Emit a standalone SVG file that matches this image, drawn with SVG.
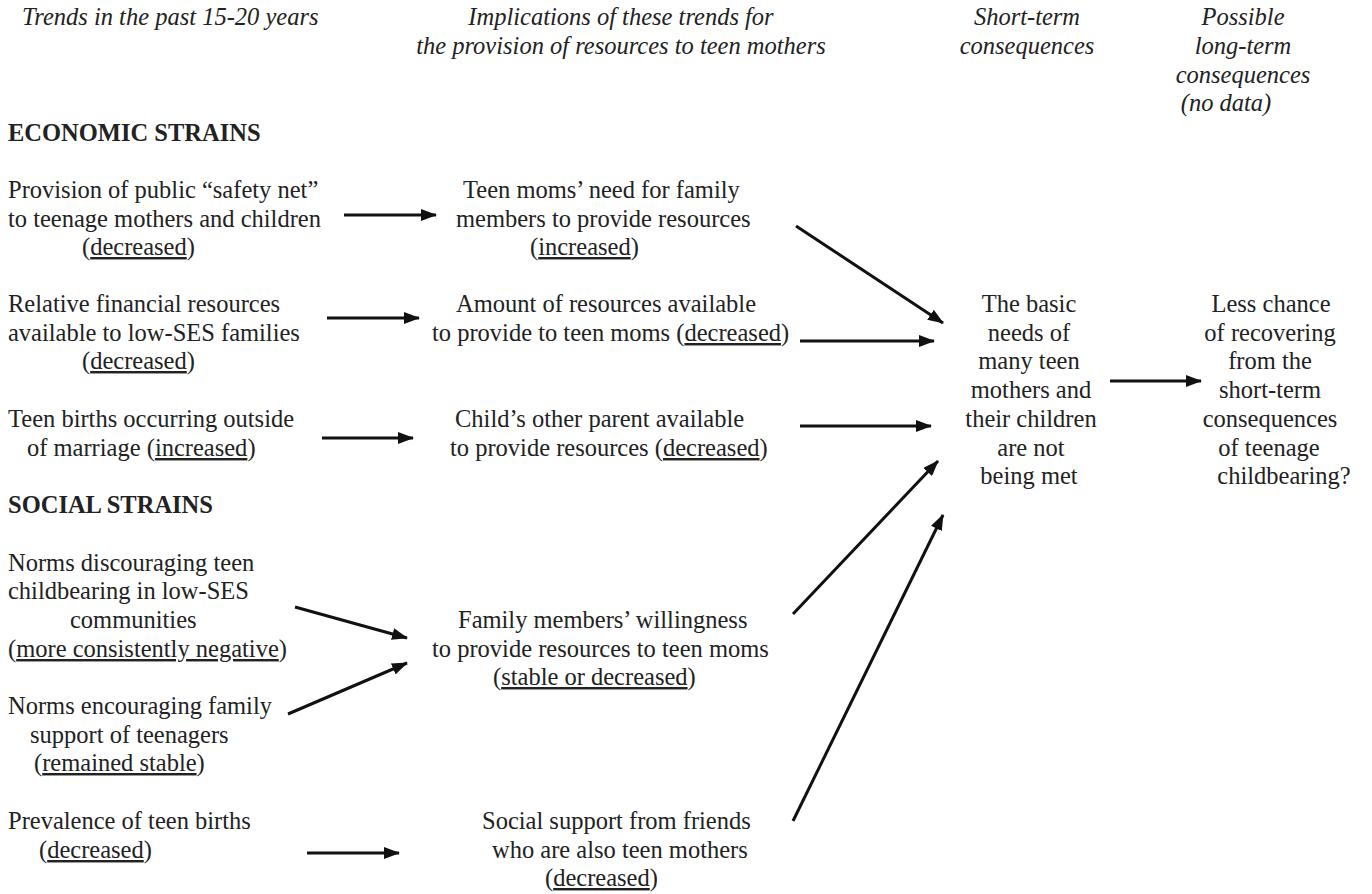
<svg xmlns="http://www.w3.org/2000/svg" width="1372" height="894" viewBox="0 0 1372 894">
<style>
text{font-family:"Liberation Serif","Times New Roman",serif;font-size:24.5px;fill:#222}
.h{font-style:italic}
.b{font-weight:bold}
.m{text-anchor:middle}
.u{text-decoration:underline}
.c line{stroke:#111;stroke-width:3;marker-end:url(#ah)}
</style>
<defs>
<marker id="ah" markerUnits="userSpaceOnUse" markerWidth="16" markerHeight="12" refX="15" refY="6" orient="auto">
<path d="M0,0 L16,6 L0,12 Z" fill="#111"/>
</marker>
</defs>
<rect width="1372" height="894" fill="#fff"/>
<g id="headers" class="h">
<text class="h" x="22" y="25">Trends in the past 15-20 years</text>
<text class="h m" x="621" y="25">Implications of these trends for</text>
<text class="h m" x="621" y="54">the provision of resources to teen mothers</text>
<text class="h m" x="1027" y="25">Short-term</text>
<text class="h m" x="1027" y="54">consequences</text>
<text class="h m" x="1243" y="25">Possible</text>
<text class="h m" x="1243" y="54">long-term</text>
<text class="h m" x="1243" y="83">consequences</text>
<text class="h m" x="1226" y="111">(no data)</text>
</g>
<g id="econ-title"><text class="b" x="8" y="141">ECONOMIC STRAINS</text></g>
<g id="n-safety-net">
<text x="8" y="198">Provision of public “safety net”</text>
<text x="8" y="227">to teenage mothers and children</text>
<text x="82" y="255">(<tspan class="u">decreased</tspan>)</text>
</g>
<g id="n-financial">
<text x="8" y="312">Relative financial resources</text>
<text x="8" y="341">available to low-SES families</text>
<text x="82" y="369">(<tspan class="u">decreased</tspan>)</text>
</g>
<g id="n-outside-marriage">
<text x="8" y="427">Teen births occurring outside</text>
<text x="27" y="456">of marriage (<tspan class="u">increased</tspan>)</text>
</g>
<g id="social-title"><text class="b" x="8" y="513">SOCIAL STRAINS</text></g>
<g id="n-norms-discouraging">
<text x="8" y="571">Norms discouraging teen</text>
<text x="8" y="599">childbearing in low-SES</text>
<text x="70" y="628">communities</text>
<text x="8" y="657">(<tspan class="u">more consistently negative</tspan>)</text>
</g>
<g id="n-norms-encouraging">
<text x="8" y="714">Norms encouraging family</text>
<text x="30" y="743">support of teenagers</text>
<text x="34" y="771">(<tspan class="u">remained stable</tspan>)</text>
</g>
<g id="n-prevalence">
<text x="8" y="829">Prevalence of teen births</text>
<text x="39" y="858">(<tspan class="u">decreased</tspan>)</text>
</g>
<g id="n-need-family">
<text x="463" y="198">Teen moms’ need for family</text>
<text x="456" y="227">members to provide resources</text>
<text x="530" y="255">(<tspan class="u">increased</tspan>)</text>
</g>
<g id="n-amount">
<text x="456" y="312">Amount of resources available</text>
<text x="432" y="341">to provide to teen moms (<tspan class="u">decreased</tspan>)</text>
</g>
<g id="n-other-parent">
<text x="455" y="427">Child’s other parent available</text>
<text x="450" y="456">to provide resources (<tspan class="u">decreased</tspan>)</text>
</g>
<g id="n-willingness">
<text x="458" y="628">Family members’ willingness</text>
<text x="432" y="657">to provide resources to teen moms</text>
<text x="493" y="685">(<tspan class="u">stable or decreased</tspan>)</text>
</g>
<g id="n-social-support">
<text x="482" y="829">Social support from friends</text>
<text x="492" y="858">who are also teen mothers</text>
<text x="545" y="886">(<tspan class="u">decreased</tspan>)</text>
</g>
<g id="n-basic-needs">
<text class="m" x="1029" y="312">The basic</text>
<text class="m" x="1029" y="341">needs of</text>
<text class="m" x="1029" y="369">many teen</text>
<text class="m" x="1031" y="398">mothers and</text>
<text class="m" x="1031" y="427">their children</text>
<text class="m" x="1031" y="456">are not</text>
<text class="m" x="1029" y="484">being met</text>
</g>
<g id="n-less-chance">
<text class="m" x="1271" y="312">Less chance</text>
<text class="m" x="1270" y="341">of recovering</text>
<text class="m" x="1270" y="369">from the</text>
<text class="m" x="1270" y="398">short-term</text>
<text class="m" x="1270" y="427">consequences</text>
<text class="m" x="1269" y="456">of teenage</text>
<text class="m" x="1284" y="484">childbearing?</text>
</g>
<g id="connectors" class="c">
<line x1="344" y1="215" x2="436" y2="215"/>
<line x1="327" y1="318" x2="419" y2="318"/>
<line x1="322" y1="438" x2="413" y2="438"/>
<line x1="307" y1="853" x2="399" y2="853"/>
<line x1="295" y1="607" x2="407" y2="638"/>
<line x1="288" y1="714" x2="407" y2="663"/>
<line x1="796" y1="226" x2="943" y2="323"/>
<line x1="800" y1="341" x2="934" y2="341"/>
<line x1="800" y1="426" x2="931" y2="426"/>
<line x1="793" y1="614" x2="938" y2="461"/>
<line x1="793" y1="821" x2="943" y2="515"/>
<line x1="1110" y1="381" x2="1201" y2="381"/>
</g>
</svg>
